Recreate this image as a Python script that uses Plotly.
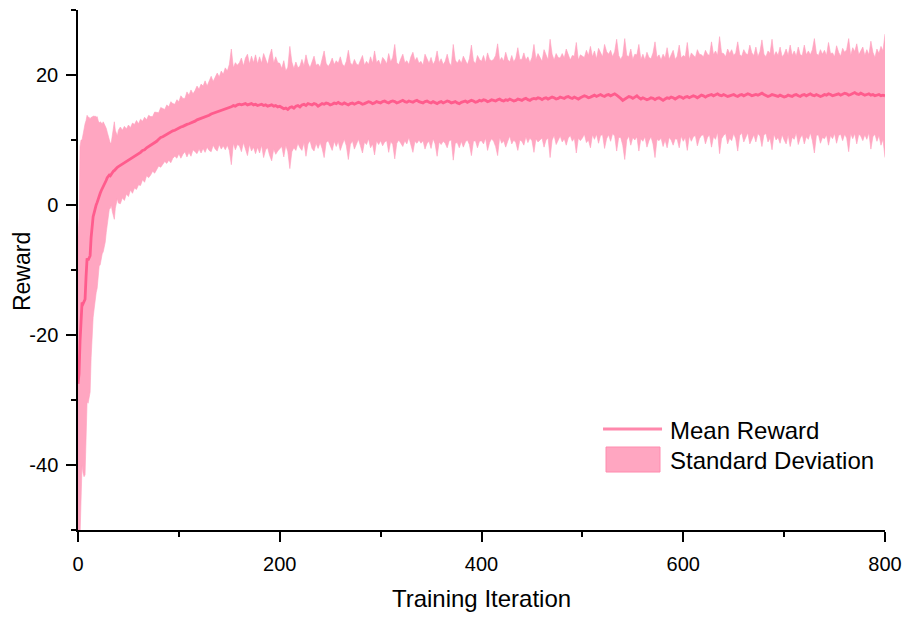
import plotly.graph_objects as go

# Training iterations: every iteration early on, every 2nd afterwards
iterations = list(range(0, 40)) + list(range(40, 801, 2))

mean_reward = [
    -27.5, -26.0, -21.0, -17.0, -15.0, -15.2, -14.8, -14.5, -11.0, -8.2,
    -8.5, -8.0, -7.8, -5.0, -3.0, -1.8, -1.2, -0.3, 0.0, 0.4,
    1.0, 1.6, 1.8, 2.2, 2.5, 2.8, 3.0, 3.3, 3.8, 4.2,
    4.5, 4.6, 4.5, 4.8, 5.0, 5.2, 5.3, 5.5, 5.6, 5.8,
    # 40 .. 250 step 2
    5.9, 6.1, 6.3, 6.4, 6.7, 6.8, 7.1, 7.2, 7.5, 7.7,
    7.8, 8.1, 8.4, 8.5, 8.8, 9.0, 9.1, 9.4, 9.6, 9.8,
    10.1, 10.4, 10.5, 10.7, 10.9, 11.0, 11.2, 11.4, 11.5, 11.7,
    11.9, 12.0, 12.1, 12.3, 12.4, 12.5, 12.6, 12.8, 12.9, 13.1,
    13.2, 13.3, 13.5, 13.6, 13.6, 13.8, 14.0, 14.1, 14.2, 14.3,
    14.5, 14.6, 14.6, 14.8, 14.9, 15.0, 15.1, 15.3, 15.2, 15.4,
    15.5, 15.4, 15.5, 15.6, 15.4, 15.5, 15.6, 15.4, 15.5, 15.3,
    15.4, 15.5, 15.3, 15.4, 15.2, 15.3, 15.4, 15.2, 15.3, 15.1,
    15.2, 15.0, 14.8, 14.9, 14.7, 15.0, 15.1, 14.9, 15.2, 15.3,
    15.1, 15.4, 15.5, 15.3, 15.6, 15.5, 15.4, 15.6, 15.5, 15.2,
    15.4, 15.6, 15.5, 15.7, 15.6, 15.4,
    # 252 .. 800 step 2
    15.5, 15.7, 15.6, 15.8, 15.6, 15.5, 15.7, 15.6, 15.4, 15.6,
    15.7, 15.5, 15.6, 15.8, 15.7, 15.5, 15.6, 15.7, 15.9, 15.8,
    15.6, 15.7, 15.9, 15.8, 15.7, 15.9, 16.0, 15.8, 15.7, 15.9,
    16.0, 15.9, 15.7, 15.8, 16.0, 16.1, 15.9, 15.8, 16.0, 15.9,
    15.8, 16.0, 16.1, 15.9, 15.8, 15.7, 15.9, 16.0, 15.8, 15.7,
    15.9, 15.8, 15.6, 15.8, 15.9, 15.7, 15.8, 16.0, 15.9, 15.7,
    15.8, 15.9, 15.7, 15.6, 15.8, 15.9, 16.0, 15.8, 15.9, 16.1,
    16.0, 15.8, 15.9, 16.1, 16.0, 16.2, 16.1, 15.9, 16.0, 16.2,
    16.1, 16.0, 16.2, 16.3, 16.1, 16.0, 16.2, 16.1, 16.3, 16.2,
    16.0, 16.1, 16.3, 16.2, 16.1, 16.3, 16.4, 16.2, 16.1, 16.3,
    16.4, 16.3, 16.5, 16.4, 16.2, 16.4, 16.5, 16.3, 16.4, 16.6,
    16.5, 16.3, 16.4, 16.6, 16.5, 16.4, 16.6, 16.7, 16.5, 16.4,
    16.6, 16.5, 16.3, 16.5, 16.6, 16.8, 16.7, 16.5, 16.6, 16.8,
    16.9, 16.7, 16.8, 17.0, 16.8, 16.7, 16.9, 17.0, 16.8, 16.9,
    17.1, 16.9, 16.7, 16.4, 16.1, 16.3, 16.5, 16.7, 16.6, 16.4,
    16.6, 16.8, 16.5, 16.3, 16.5, 16.4, 16.2, 16.3, 16.5, 16.4,
    16.2, 16.4, 16.5, 16.3, 16.1, 16.3, 16.5, 16.4, 16.6, 16.5,
    16.3, 16.5, 16.7, 16.6, 16.4, 16.6, 16.7, 16.5, 16.6, 16.8,
    16.7, 16.5, 16.7, 16.9, 16.8, 16.6, 16.8, 16.9, 17.0, 16.8,
    16.9, 17.1, 16.9, 16.8, 17.0, 16.9, 16.7, 16.8, 16.9, 17.0,
    16.8, 16.7, 16.9, 17.0, 16.8, 16.9, 17.1, 17.0, 16.8, 16.9,
    17.0, 16.9, 17.1, 17.2, 17.0, 16.9, 16.7, 16.8, 17.0, 16.9,
    16.8, 16.7, 16.9, 16.8, 16.6, 16.7, 16.9, 16.8, 16.7, 16.9,
    17.0, 16.8, 16.7, 16.9, 17.0, 16.8, 16.9, 17.1, 16.9, 16.8,
    17.0, 16.9, 16.7, 16.8, 17.0, 16.9, 17.1, 17.0, 16.8, 16.9,
    17.0, 17.1, 16.9, 17.0, 17.2, 17.1, 16.9, 17.0, 17.2, 17.3,
    17.1, 17.0, 17.2, 17.1, 16.9, 17.0, 17.1, 16.9, 17.0, 16.8,
    16.9, 17.0, 16.8, 16.9, 16.8,
]

std_reward = [
    22.5, 24.0, 30.0, 27.0, 25.0, 26.0, 27.0, 27.0, 24.0, 22.0,
    22.0, 21.5, 21.0, 18.5, 16.5, 15.5, 14.8, 14.0, 13.5, 13.2,
    12.0, 11.0, 11.0, 10.5, 10.0, 10.0, 9.5, 9.0, 8.0, 7.0,
    6.0, 5.3, 5.0, 4.8, 6.0, 7.0, 7.5, 6.0, 5.2, 4.8,
    # 40 .. 198 step 2
    5.6, 5.9, 5.2, 5.7, 5.0, 5.5, 4.8, 5.4, 4.9, 5.3,
    4.7, 5.1, 4.5, 5.0, 4.3, 4.8, 4.5, 4.2, 4.7, 4.4,
    4.1, 4.6, 4.3, 4.0, 4.5, 4.1, 4.7, 4.2, 4.0, 4.5,
    4.0, 4.8, 4.3, 4.1, 5.0, 4.4, 5.1, 4.3, 4.7, 5.2,
    4.6, 5.3, 4.8, 5.5, 4.7, 5.4, 5.8, 4.9, 5.6, 6.0,
    5.2, 6.0, 5.5, 6.3, 5.7, 6.6, 8.9, 5.8, 6.7, 6.1,
    6.4, 7.2, 5.9, 7.0, 7.8, 6.2, 7.3, 6.5, 7.6, 6.4,
    7.4, 6.3, 8.0, 6.9, 6.4, 7.7, 8.6, 6.6, 7.5, 6.8,
    # 200 .. 800 step 2
    6.6, 6.0, 7.4, 5.7, 6.5, 9.4, 6.9, 6.1, 6.8, 5.8,
    6.3, 7.0, 5.9, 7.8, 6.2, 5.6, 6.7, 7.3, 6.0, 6.5,
    5.8, 6.9, 8.2, 6.1, 5.7, 6.4, 7.1, 5.9, 6.6, 6.0,
    7.2, 6.2, 5.6, 6.5, 8.4, 6.3, 5.8, 6.9, 6.1, 5.7,
    6.6, 7.5, 5.9, 6.4, 5.7, 7.0, 6.2, 8.0, 6.0, 6.5,
    5.8, 6.8, 6.3, 5.9, 7.6, 6.1, 6.7, 8.8, 6.2, 5.8,
    6.5, 7.1, 6.0, 6.4, 5.6, 6.9, 7.7, 6.2, 6.6, 5.9,
    6.3, 5.8, 7.3, 6.5, 6.0, 7.0, 5.7, 6.4, 8.1, 6.1,
    6.6, 5.9, 6.3, 7.2, 6.0, 5.7, 8.9, 6.4, 6.1, 6.8,
    6.0, 7.0, 6.3, 5.8, 6.6, 8.5, 6.2, 5.9, 7.1, 6.3,
    6.1, 6.8, 5.8, 7.5, 6.4, 6.0, 6.3, 7.0, 8.6, 5.9,
    6.6, 6.1, 7.3, 6.3, 5.7, 6.8, 6.0, 6.5, 7.9, 6.2,
    6.3, 7.1, 5.9, 6.6, 5.8, 6.4, 8.3, 6.1, 6.8, 6.4,
    5.9, 7.5, 6.5, 6.0, 9.1, 6.6, 5.8, 7.0, 6.3, 6.0,
    6.8, 6.2, 7.4, 6.4, 5.8, 6.6, 6.3, 8.5, 6.0, 6.6,
    6.3, 5.9, 7.1, 6.5, 7.8, 6.0, 6.8, 5.8, 7.3, 6.3,
    6.0, 8.0, 6.7, 6.2, 7.0, 5.9, 6.5, 8.6, 6.3, 6.0,
    6.9, 9.3, 6.5, 6.1, 7.4, 6.0, 6.6, 6.3, 8.2, 6.1,
    6.7, 5.9, 7.3, 6.4, 6.0, 7.0, 8.9, 6.3, 6.6, 6.0,
    7.1, 6.3, 7.7, 6.0, 6.6, 7.3, 6.1, 6.4, 7.9, 6.0,
    6.6, 6.2, 8.3, 5.9, 6.8, 6.3, 6.0, 7.4, 6.5, 6.2,
    6.0, 7.2, 6.4, 6.1, 8.1, 6.3, 6.8, 5.9, 9.0, 6.6,
    6.3, 5.9, 7.3, 6.5, 7.0, 6.0, 6.6, 8.4, 6.2, 5.9,
    7.1, 6.4, 6.0, 7.6, 6.6, 6.1, 7.3, 5.9, 6.5, 8.2,
    6.2, 5.9, 7.0, 6.5, 8.5, 6.0, 6.8, 6.3, 7.4, 6.0,
    6.6, 7.3, 6.1, 7.8, 6.3, 6.8, 5.9, 7.5, 6.4, 6.1,
    7.6, 6.3, 6.8, 6.0, 7.0, 8.8, 6.3, 6.1, 7.2, 6.4,
    6.8, 6.1, 7.9, 6.3, 6.6, 5.9, 7.5, 6.4, 6.0, 7.1,
    6.3, 6.8, 8.7, 6.0, 7.0, 6.3, 7.7, 6.1, 6.6, 7.2,
    6.1, 6.9, 6.0, 8.3, 6.5, 5.9, 7.1, 6.3, 7.6, 6.8,
    9.5,
]

y_tick_values = [-40, -20, 0, 20]
y_tick_labels = ["-40", "-20", "0", "20"]
x_tick_values = [0, 200, 400, 600, 800]
x_tick_labels = ["0", "200", "400", "600", "800"]
legend_labels = ["Mean Reward", "Standard Deviation"]

n = min(len(iterations), len(mean_reward), len(std_reward))
x = iterations[:n]
m = mean_reward[:n]
s = std_reward[:n]
upper = [a + b for a, b in zip(m, s)]
lower = [a - b for a, b in zip(m, s)]

BAND = "rgba(255,150,182,0.85)"
BAND_EDGE = "rgb(255,160,190)"
LINE = "#FF5C8D"
LEGEND_LINE = "#FF88AC"
FONT = "Arial, Liberation Sans, sans-serif"

fig = go.Figure()
fig.add_trace(go.Scatter(
    x=x, y=lower, mode="lines", line=dict(width=0.6, color=BAND_EDGE),
    showlegend=False, hoverinfo="skip",
))
fig.add_trace(go.Scatter(
    x=x, y=upper, mode="lines", fill="tonexty", fillcolor=BAND,
    line=dict(width=0.6, color=BAND_EDGE),
    name=legend_labels[1], showlegend=False,
))
fig.add_trace(go.Scatter(
    x=x, y=m, mode="lines", line=dict(width=2.8, color=LINE),
    name=legend_labels[0], showlegend=False,
))

# Legend drawn in paper coordinates (line sample, filled box, labels)
fig.add_shape(type="line", xref="paper", yref="paper",
              x0=0.6506, x1=0.7237, y0=0.1942, y1=0.1942,
              line=dict(color=LEGEND_LINE, width=3))
fig.add_shape(type="rect", xref="paper", yref="paper",
              x0=0.6543, x1=0.7212, y0=0.1115, y1=0.1596,
              fillcolor="rgb(255,166,193)", line=dict(color="rgb(255,140,175)", width=1))
fig.add_annotation(xref="paper", yref="paper", x=0.7311, y=0.1923,
                   xanchor="left", yanchor="middle", showarrow=False,
                   text=legend_labels[0], font=dict(size=24, family=FONT, color="black"))
fig.add_annotation(xref="paper", yref="paper", x=0.7311, y=0.1346,
                   xanchor="left", yanchor="middle", showarrow=False,
                   text=legend_labels[1], font=dict(size=24, family=FONT, color="black"))
# Y-axis title
fig.add_annotation(xref="paper", yref="paper", x=-0.0694, y=0.498,
                   xanchor="center", yanchor="middle", showarrow=False,
                   text="Reward", textangle=-90,
                   font=dict(size=23, family=FONT, color="black"))

fig.update_layout(
    width=909, height=621,
    margin=dict(l=78, r=24, t=10, b=91, autoexpand=False),
    paper_bgcolor="white", plot_bgcolor="white",
    font=dict(family=FONT, size=20, color="black"),
    showlegend=False,
)
fig.update_xaxes(
    range=[0, 800], showgrid=False, zeroline=False, automargin=False,
    showline=True, linecolor="black", linewidth=1.5,
    ticks="outside", ticklen=10, tickwidth=1.5, tickcolor="black",
    tickvals=x_tick_values, ticktext=x_tick_labels,
    tickfont=dict(size=20), ticklabelstandoff=5,
    minor=dict(dtick=100, tick0=0, ticks="outside", ticklen=5, tickwidth=1.5, tickcolor="black", showgrid=False),
    title=dict(text="Training Iteration", font=dict(size=24), standoff=16),
)
fig.update_yaxes(
    range=[-50, 30], showgrid=False, zeroline=False, automargin=False,
    showline=True, linecolor="black", linewidth=1.5,
    ticks="outside", ticklen=10, tickwidth=1.5, tickcolor="black",
    tickvals=y_tick_values, ticktext=y_tick_labels,
    tickfont=dict(size=20), ticklabelstandoff=4,
    minor=dict(dtick=10, tick0=0, ticks="outside", ticklen=5, tickwidth=1.5, tickcolor="black", showgrid=False),
)

fig.write_html("out.html")
